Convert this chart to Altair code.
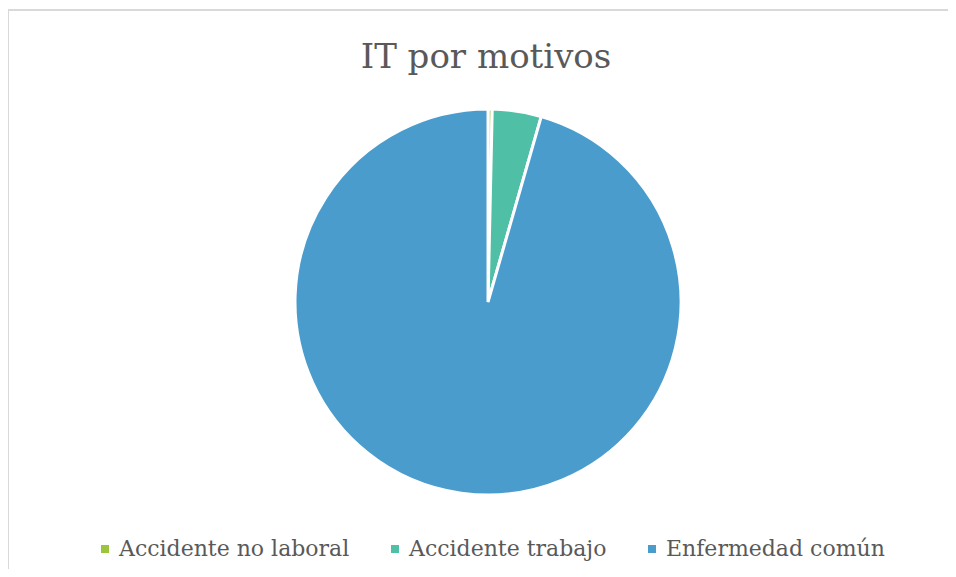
import altair as alt
import pandas as pd

categories = ["Accidente no laboral", "Accidente trabajo", "Enfermedad común"]
values = [0.35, 4.1, 95.55]
order_idx = [0, 1, 2]
colors = ["#9BC53D", "#4FBFA5", "#4A9CCC"]

df = pd.DataFrame({"motivo": categories, "valor": values, "idx": order_idx})

FONT = "DejaVu Serif"
TXT = "#595959"

pie = alt.Chart(df).mark_arc(radius=193, stroke="white", strokeWidth=3).encode(
    theta=alt.Theta("valor:Q", stack=True),
    order=alt.Order("idx:Q"),
    color=alt.Color(
        "motivo:N",
        scale=alt.Scale(domain=categories, range=colors),
        sort=categories,
        legend=alt.Legend(
            title=None,
            orient="none",
            legendX=86,
            legendY=530,
            direction="horizontal",
            symbolType="square",
            symbolSize=64,
            symbolStrokeWidth=0,
            labelFont=FONT,
            labelFontSize=22,
            labelColor=TXT,
            labelOffset=3,
            columnPadding=34,
            labelLimit=400,
        ),
    ),
    x=alt.value(480),
    y=alt.value(294),
)

border_top = alt.Chart(df).mark_rule(color="#d9d9d9", strokeWidth=2).encode(
    x=alt.value(0), x2=alt.value(960), y=alt.value(2)
)
border_left = alt.Chart(df).mark_rule(color="#d9d9d9", strokeWidth=2).encode(
    x=alt.value(0), y=alt.value(2), y2=alt.value(561)
)

chart = alt.layer(border_top, border_left, pie).properties(
    width=940,
    height=561,
    padding=0,
    autosize=alt.AutoSizeParams(type="none"),
    title=alt.TitleParams(
        "IT por motivos",
        font=FONT,
        fontSize=34,
        fontWeight="normal",
        color=TXT,
        anchor="middle",
        dx=8,
        offset=-67,
    ),
).configure_view(stroke=None)

chart.save("out.html", embed_options={"renderer": "svg", "actions": False})
